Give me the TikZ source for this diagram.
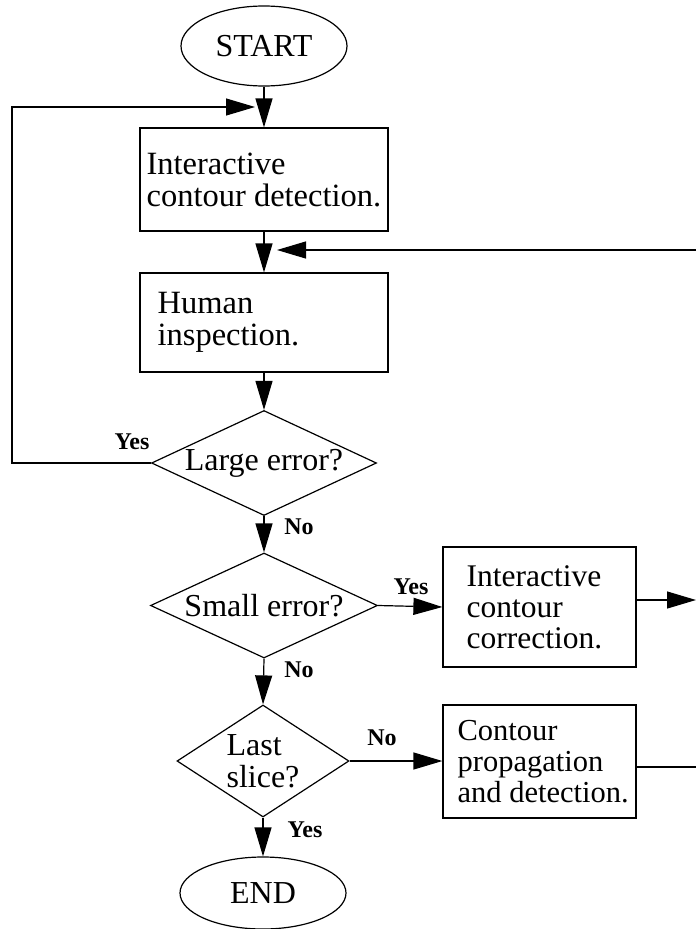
\documentclass[tikz,border=0pt]{standalone}
\usepackage{fontspec}
\setmainfont{Liberation Serif}
\usetikzlibrary{shapes.geometric,arrows.meta,calc}
\begin{document}
\begin{tikzpicture}[x=1pt,y=-1pt,
  box/.style={draw, line width=1.2pt, inner sep=0pt},
  txt/.style={inner sep=0pt, align=left, font=\fontsize{32.5}{32}\selectfont},
  lbl/.style={inner sep=0pt, font=\fontsize{24}{24}\selectfont\bfseries},
  dia/.style={draw, shape=diamond, inner sep=0pt, line width=1.2pt, align=left, font=\fontsize{32}{32}\selectfont},
  ell/.style={draw, shape=ellipse, inner sep=0pt, line width=1.2pt, minimum width=166pt, font=\fontsize{32}{32}\selectfont},
  ln/.style={line width=1.2pt},
  arr/.style={line width=1.2pt, -{Triangle[length=29pt,width=17pt]}}]
\useasboundingbox (0,0) rectangle (696,929);

% terminals
\node[ell, minimum height=80pt] (start) at (264,46) {START};
\node[ell, minimum height=72pt] (end) at (263,893) {END};

% boxes
\node[box, minimum width=248pt, minimum height=103pt] (b1) at (264,179.5) {};
\node[txt, anchor=west] (b1t) at ([xshift=7pt]b1.west) {Interactive\\contour detection.};
\node[box, minimum width=248pt, minimum height=99pt] (b2) at (264,322.5) {};
\node[txt, anchor=west] (b2t) at ([xshift=18pt]b2.west) {Human\\inspection.};
\node[box, minimum width=193pt, minimum height=120pt] (b3) at (539.5,607) {};
\node[txt, anchor=west, font=\fontsize{31.5}{31}\selectfont] (b3t) at ([xshift=24pt]b3.west) {Interactive\\contour\\correction.};
\node[box, minimum width=193pt, minimum height=113pt] (b4) at (539.5,761.5) {};
\node[txt, anchor=west, font=\fontsize{30.5}{31}\selectfont] (b4t) at ([xshift=15pt]b4.west) {Contour\\propagation\\and detection.};

% decisions
\node[dia, minimum width=225pt, minimum height=105pt, aspect=2.14] (large) at (264,463) {Large error?};
\node[dia, minimum width=227pt, minimum height=105pt, aspect=2.16] (small) at (264,605.5) {Small error?};
\node[dia, minimum width=172pt, minimum height=112pt, aspect=1.54] (last) at (263,761) {Last\\slice?};

% free ends
\coordinate (loopin) at (255,107);
\coordinate (loopcorner) at (12,107);
\coordinate (fbedge) at (696,250);
\coordinate (fbin) at (277,250);
\coordinate (c3) at (696,600);
\coordinate (c4) at (696,767);

% connectors
\draw[arr] (start.south) -- (b1.north);
\draw[arr] (b1.south) -- (b2.north);
\draw[arr] (b2.south) -- (large.north);
\draw[arr] (large.south) -- (small.north);
\draw[arr] (small.south) -- (last.north);
\draw[arr] (last.south) -- (end.north);
\draw[arr] (large.west) -- (large.west -| loopcorner) -- (loopcorner) -- (loopin);
\draw[arr] (fbedge) -- (fbin);
\draw[arr] (small.east) -- (b3.west);
\draw[arr] (b3.east |- c3) -- (c3);
\draw[arr] (last.east) -- (last.east -| b4.west);
\draw[ln] (b4.east |- c4) -- (c4);

% labels
\node[lbl] (lyes1) at (132,442) {Yes};
\node[lbl] (lno1) at (299,527) {No};
\node[lbl] (lyes2) at (411,587) {Yes};
\node[lbl] (lno2) at (299,670) {No};
\node[lbl] (lno3) at (382,738) {No};
\node[lbl] (lyes3) at (305,830) {Yes};
\end{tikzpicture}
\end{document}
